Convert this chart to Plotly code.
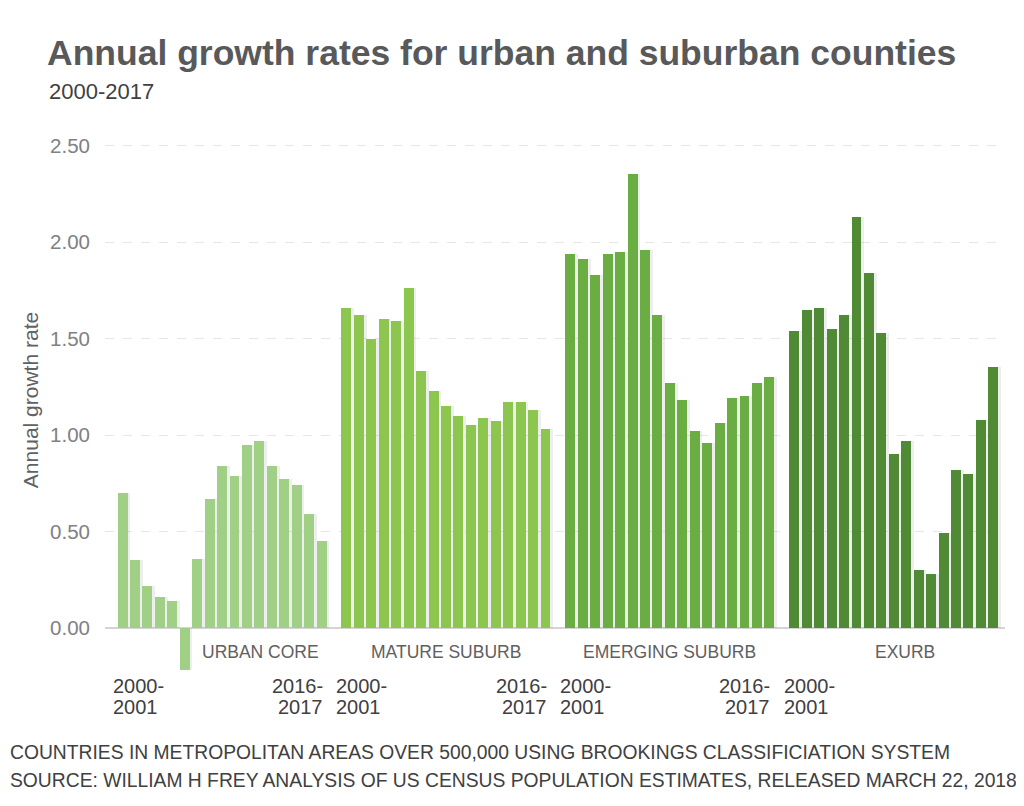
import plotly.graph_objects as go

# ---------------- data ----------------
groups = ["URBAN CORE", "MATURE SUBURB", "EMERGING SUBURB", "EXURB"]
periods = ["2000-2001", "2001-2002", "2002-2003", "2003-2004", "2004-2005",
           "2005-2006", "2006-2007", "2007-2008", "2008-2009", "2009-2010",
           "2010-2011", "2011-2012", "2012-2013", "2013-2014", "2014-2015",
           "2015-2016", "2016-2017"]
urban_core = [0.70, 0.35, 0.22, 0.16, 0.14, -0.22, 0.36, 0.67, 0.84, 0.79,
              0.95, 0.97, 0.84, 0.77, 0.74, 0.59, 0.45]
mature_suburb = [1.66, 1.62, 1.50, 1.60, 1.59, 1.76, 1.33, 1.23, 1.15, 1.10,
                 1.05, 1.09, 1.07, 1.17, 1.17, 1.13, 1.03]
emerging_suburb = [1.94, 1.91, 1.83, 1.94, 1.95, 2.35, 1.96, 1.62, 1.27, 1.18,
                   1.02, 0.96, 1.06, 1.19, 1.20, 1.27, 1.30]
exurb = [1.54, 1.65, 1.66, 1.55, 1.62, 2.13, 1.84, 1.53, 0.90, 0.97,
         0.30, 0.28, 0.49, 0.82, 0.80, 1.08, 1.35]
series = [urban_core, mature_suburb, emerging_suburb, exurb]
y_ticks = [0, 0.5, 1.0, 1.5, 2.0, 2.5]
y_tick_text = ["0.00", "0.50", "1.00", "1.50", "2.00", "2.50"]

title = "Annual growth rates for urban and suburban counties"
subtitle = "2000-2017"
y_title = "Annual growth rate"
footer = ["COUNTRIES IN METROPOLITAN AREAS OVER 500,000 USING BROOKINGS CLASSIFICIATION SYSTEM",
          "SOURCE: WILLIAM H FREY ANALYSIS OF US CENSUS POPULATION ESTIMATES, RELEASED MARCH 22, 2018"]

# ---------------- style / layout ----------------
colors = ["#a0d086", "#8dc64e", "#6aad42", "#508a35"]
FONT = "Liberation Sans, Arial, sans-serif"
TXT = "#5f6062"
DARK = "#404041"
SLOT = len(periods) + 1  # one empty slot between groups

OFF = 8                      # page body margin
W, H = 1024 - OFF, 806 - OFF
L, R, T, B = 105 - OFF, 1024 - 1005, 120 - OFF, H - (680 - OFF)
PW, PH = W - L - R, H - T - B
Y0, PX_PER_UNIT = 628, 193.0  # page pixel of y=0, pixels per unit


def px(xp):  # page x pixel -> paper x
    return (xp - OFF - L) / PW


def py(yp):  # page y pixel -> paper y
    return 1 - (yp - OFF - T) / PH


fig = go.Figure()

for g, (name, vals) in enumerate(zip(groups, series)):
    xs = [g * SLOT + i for i in range(len(vals))]
    fig.add_trace(go.Bar(x=[x + 0.22 for x in xs], y=vals, width=0.8,
                         marker=dict(color="rgba(120,120,120,0.13)", line_width=0),
                         hoverinfo="skip", showlegend=False))
    fig.add_trace(go.Bar(x=xs, y=vals, width=0.8, name=name, customdata=periods,
                         hovertemplate="%{customdata}: %{y:.2f}<extra>" + name + "</extra>",
                         marker=dict(color=colors[g], line_width=0), showlegend=False))

annotations = []
label_x = [11.1, 1 * SLOT + 8, 2 * SLOT + 8, 3 * SLOT + 8.9]
for g, name in enumerate(groups):
    annotations.append(dict(x=label_x[g], y=py(652), xref="x", yref="paper", text=name,
                            showarrow=False, xanchor="center", yanchor="middle",
                            font=dict(family=FONT, size=17.5, color=TXT)))

first_lines = periods[0].replace("-", "-\n").split("\n")
last_lines = periods[-1].replace("-", "-\n").split("\n")
for g in range(len(groups)):
    for k, yp in enumerate([686, 707]):
        annotations.append(dict(x=g * SLOT - 0.4, y=py(yp), xref="x", yref="paper",
                                text=first_lines[k], showarrow=False,
                                xanchor="left", yanchor="middle", xshift=-7,
                                font=dict(family=FONT, size=20, color=DARK)))
        if g < len(groups) - 1:
            annotations.append(dict(x=(g * SLOT + len(periods) - 1) - 0.4, y=py(yp), xref="x",
                                    yref="paper", text=last_lines[k], showarrow=False,
                                    xanchor="right", yanchor="middle", xshift=8,
                                    font=dict(family=FONT, size=20, color=DARK)))

annotations.append(dict(x=px(47), y=py(92), xref="paper", yref="paper", text=subtitle,
                        showarrow=False, xanchor="left", yanchor="middle",
                        font=dict(family=FONT, size=22, color=DARK)))
for k, line in enumerate(footer):
    annotations.append(dict(x=px(8), y=py(752 + 28 * k), xref="paper", yref="paper",
                            text=line, showarrow=False, xanchor="left", yanchor="middle",
                            font=dict(family=FONT, size=19.3, color=DARK)))

ymin = (Y0 - 680) / PX_PER_UNIT
ymax = (Y0 - 120) / PX_PER_UNIT

fig.update_layout(
    width=W, height=H,
    margin=dict(l=L, r=R, t=T, b=B),
    paper_bgcolor="white", plot_bgcolor="white",
    barmode="overlay", bargap=0,
    title=dict(text="<b>" + title + "</b>", x=(47 - OFF) / W, xref="container", xanchor="left",
               y=1 - (53 - OFF) / H, yref="container", yanchor="middle",
               font=dict(family=FONT, size=35.5, color="#58595b")),
    xaxis=dict(range=[-1.41, 70.94], showgrid=False, showticklabels=False, zeroline=False,
               showline=False, fixedrange=True),
    yaxis=dict(range=[ymin, ymax], tickvals=y_ticks, ticktext=y_tick_text,
               showgrid=True, gridcolor="#e6e6e6", griddash="dash", gridwidth=1,
               zeroline=True, zerolinecolor="#d4d4d4", zerolinewidth=1.5,
               showline=False, ticks="", ticklabelstandoff=14,
               tickfont=dict(family=FONT, size=20.5, color="#808184"),
               title=dict(text=y_title, standoff=5,
                          font=dict(family=FONT, size=21, color="#606163"))),
    annotations=annotations,
    showlegend=False,
)

fig.write_html("out.html")
